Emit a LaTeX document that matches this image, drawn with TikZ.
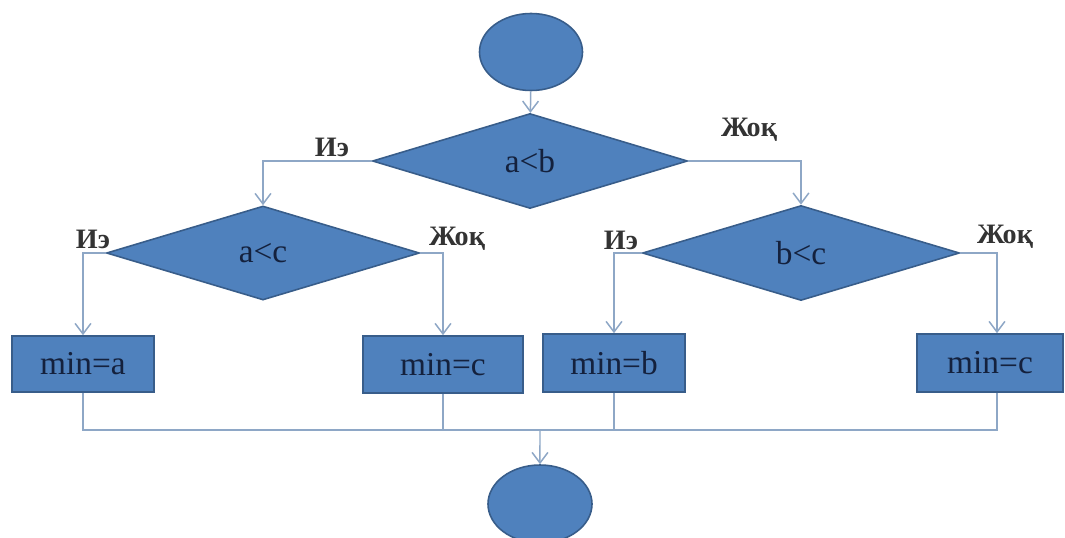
\documentclass[tikz,border=0pt]{standalone}
\usepackage{fontspec}
\setmainfont{Liberation Serif}
\usetikzlibrary{shapes.geometric,arrows.meta}
\definecolor{shapeblue}{HTML}{4F81BD}
\definecolor{shapeedge}{HTML}{385D8A}
\definecolor{linkblue}{HTML}{8EA7C6}
\definecolor{textnavy}{HTML}{14213D}

\begin{document}
\begin{tikzpicture}[scale=0.2,
  term/.style={ellipse,fill=shapeblue,draw=shapeedge,line width=0.9pt,inner sep=0pt},
  test/.style={diamond,fill=shapeblue,draw=shapeedge,line width=0.9pt,inner sep=0pt,
    text=textnavy,font=\fontsize{19}{21}\selectfont},
  work/.style={rectangle,fill=shapeblue,draw=shapeedge,line width=0.9pt,inner sep=0pt,
    text=textnavy,font=\fontsize{19}{21}\selectfont},
  answer/.style={text=black!80,font=\fontsize{16}{18}\selectfont\bfseries},
  link/.style={draw=linkblue,line width=0.85pt},
  flow/.style={link,-{Straight Barb[length=6pt,width=9pt]}}]

\useasboundingbox (0,0) rectangle (106.5,53.7);

% start and end
\node[term,minimum width=2.06cm,minimum height=1.54cm] (start) at (53.1,48.5) {};
\node[term,minimum width=2.08cm,minimum height=1.56cm] (stop) at (54.0,3.3) {};

% tests
\node[test,minimum width=6.3cm,minimum height=1.9cm] (ab) at (53.0,37.6) {a<b};
\node[test,minimum width=6.26cm,minimum height=1.88cm] (ac) at (26.3,28.4) {a<c};
\node[test,minimum width=6.34cm,minimum height=1.9cm] (bc) at (80.1,28.4) {b<c};

% results
\node[work,minimum width=2.84cm,minimum height=1.12cm] (mina) at (8.3,17.3) {min=a};
\node[work,minimum width=3.2cm,minimum height=1.14cm] (mincone) at (44.3,17.25) {min=c};
\node[work,minimum width=2.84cm,minimum height=1.16cm] (minb) at (61.4,17.4) {min=b};
\node[work,minimum width=2.92cm,minimum height=1.16cm] (minctwo) at (99.0,17.4) {min=c};

% yes / no labels
\node[answer] (yesab) at (33.2,39.0) {Иэ};
\node[answer] (noab) at (74.9,40.7) {Жоқ};
\node[answer] (yesac) at (9.3,29.8) {Иэ};
\node[answer] (noac) at (45.7,29.8) {Жоқ};
\node[answer] (yesbc) at (62.1,29.7) {Иэ};
\node[answer] (nobc) at (100.5,30.0) {Жоқ};

\coordinate (merge) at (54.0,10.7);
\coordinate (nobcturn) at (99.7,28.4);

\draw[flow] (start) -- (ab);
\draw[flow] (ab.west) -| (ac.north);
\draw[flow] (ab.east) -| (bc.north);
\draw[flow] (ac.west) -| (mina.north);
\draw[flow] (ac.east) -| (mincone.north);
\draw[flow] (bc.west) -| (minb.north);
\draw[flow] (bc.east) -- (nobcturn) -- (nobcturn |- minctwo.north);

% joining line at the bottom
\draw[link] (mina.south) |- (merge);
\draw[link] (mincone.south) |- (merge);
\draw[link] (minb.south) |- (merge);
\draw[link] (nobcturn |- minctwo.south) |- (merge);
\draw[flow] (merge) -- (stop);

\end{tikzpicture}
\end{document}
